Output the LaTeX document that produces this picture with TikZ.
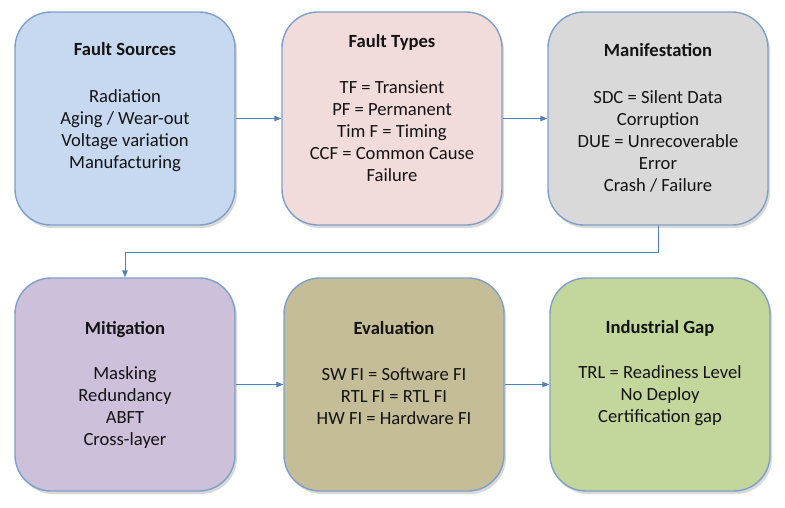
\documentclass[tikz,border=0pt]{standalone}
\usepackage{fontspec}
\setmainfont{Carlito}
\usetikzlibrary{arrows.meta,shadows}
\definecolor{bordc}{RGB}{126,159,201}
\definecolor{arrc}{RGB}{79,129,189}
\definecolor{cblue}{RGB}{198,217,241}
\definecolor{cpink}{RGB}{242,220,219}
\definecolor{cgray}{RGB}{217,217,217}
\definecolor{cviolet}{RGB}{204,192,218}
\definecolor{colive}{RGB}{196,189,151}
\definecolor{cgreen}{RGB}{195,214,155}
\definecolor{txtc}{RGB}{20,20,20}
\tikzset{
  stagebox/.style={draw=bordc, line width=1.4pt, rounded corners=36pt,
    minimum width=220pt, minimum height=213pt, inner sep=0pt,
    drop shadow={shadow xshift=2pt, shadow yshift=-3pt, opacity=0.25, fill=black!60}},
  stagetxt/.style={align=center, font=\fontsize{18.6}{22}\selectfont, text=txtc, inner sep=0pt},
  flow/.style={draw=arrc, line width=1pt, -{Triangle[length=7pt,width=5.5pt]}}
}
\begin{document}
\begin{tikzpicture}[x=1pt,y=-1pt]
\useasboundingbox (0,0) rectangle (785,507);
% top row
\node[stagebox, fill=cblue] (fs) at (125,118.5) {};
\node[stagebox, fill=cpink] (ft) at (392,118.5) {};
\node[stagebox, fill=cgray] (mf) at (658,118.5) {};
% bottom row
\node[stagebox, fill=cviolet] (mi) at (125,384.5) {};
\node[stagebox, fill=colive] (ev) at (394,384.5) {};
\node[stagebox, fill=cgreen] (ig) at (660,384.5) {};
% texts
\node[stagetxt] (fst) at (125,107) {\textbf{Fault Sources}\\[25pt]Radiation\\Aging / Wear-out\\Voltage variation\\Manufacturing};
\node[stagetxt] (ftt) at (392,108.5) {\textbf{Fault Types}\\[24pt]TF = Transient\\PF = Permanent\\Tim F = Timing\\CCF = Common Cause\\Failure};
\node[stagetxt] (mft) at (658,118) {\textbf{Manifestation}\\[25pt]SDC = Silent Data\\Corruption\\DUE = Unrecoverable\\Error\\Crash / Failure};
\node[stagetxt] (mit) at (125,385) {\textbf{Mitigation}\\[23pt]Masking\\Redundancy\\ABFT\\Cross-layer};
\node[stagetxt] (evt) at (394,373) {\textbf{Evaluation}\\[24pt]SW FI = Software FI\\RTL FI = RTL FI\\HW FI = Hardware FI};
\node[stagetxt] (igt) at (660,373) {\textbf{Industrial Gap}\\[23pt]TRL = Readiness Level\\No Deploy\\Certification gap};
% connectors
\coordinate (bend1) at (658,252);
\coordinate (bend2) at (125,252);
\draw[flow] (fs.east) -- (ft.west);
\draw[flow] (ft.east) -- (mf.west);
\draw[flow] (mf.south) -- (bend1) -- (bend2) -- (mi.north);
\draw[flow] (mi.east) -- (ev.west);
\draw[flow] (ev.east) -- (ig.west);
\end{tikzpicture}
\end{document}
